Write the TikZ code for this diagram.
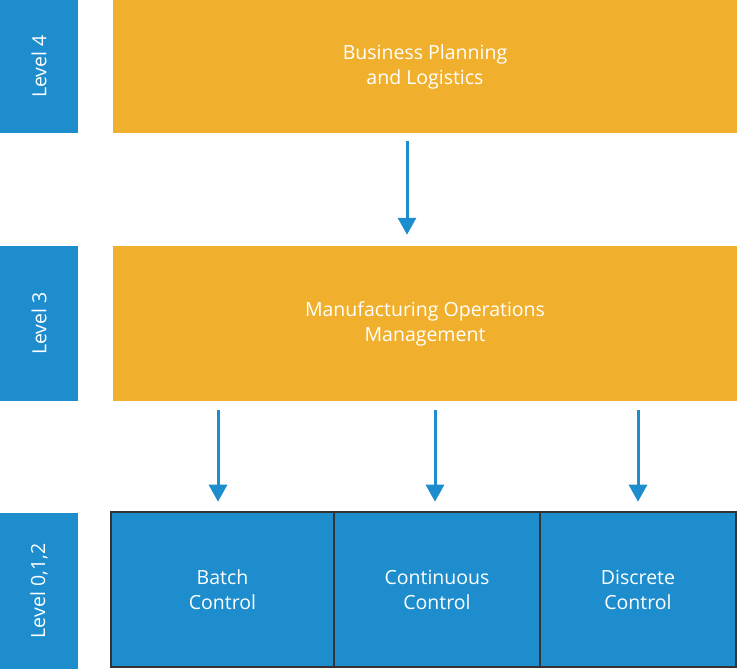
\documentclass[tikz,border=0pt]{standalone}
\usepackage{fontspec}
\setmainfont{Open Sans}
\usetikzlibrary{arrows.meta}

\definecolor{lvlblue}{HTML}{1E8DCE}
\definecolor{mesorange}{HTML}{F0B02D}
\definecolor{edgegray}{HTML}{333333}

\begin{document}
\begin{tikzpicture}[x=1pt, y=1pt,
 level/.style = {fill=lvlblue, minimum width=78pt, inner sep=0pt, text=white},
 layer/.style = {fill=mesorange, minimum width=624pt, inner sep=0pt, text=white, align=center},
 ctrl/.style = {fill=lvlblue, draw=edgegray, line width=2.5pt, inner sep=0pt, text=white, align=center, minimum height=155pt},
 flow/.style = {draw=lvlblue, line width=3pt, -{Triangle[width=18pt,length=17pt]}},
 every node/.style = {font=\fontsize{19.5}{25}\selectfont}]
\useasboundingbox (0,0) rectangle (737,669);

% levels on the left
\node[level, minimum height=133pt] (lvlfour) at (39,602.5) {\rotatebox{90}{Level 4}};
\node[level, minimum height=155pt] (lvlthree) at (39,345.5) {\rotatebox{90}{Level 3}};
\node[level, minimum height=156pt] (lvllow) at (39,78) {\rotatebox{90}{Level 0,1,2}};

% orange layers
\node[layer, minimum height=133pt] (plan) at (425,602.5) {Business Planning\\and Logistics};
\node[layer, minimum height=155pt] (mom) at (425,345.5) {Manufacturing Operations\\Management};

% control boxes
\node[ctrl, minimum width=223pt] (batch) at (222.5,79.5) {Batch\\Control};
\node[ctrl, minimum width=206pt] (cont) at (437,79.5) {Continuous\\Control};
\node[ctrl, minimum width=196pt] (disc) at (638,79.5) {Discrete\\Control};

% arrows
\draw[flow, shorten <=8pt, shorten >=11pt] ([xshift=-18pt]plan.south) -- ([xshift=-18pt]mom.north);
\draw[flow, shorten <=9pt, shorten >=9pt] ([xshift=-4.5pt]batch.north |- mom.south) -- ([xshift=-4.5pt]batch.north);
\draw[flow, shorten <=9pt, shorten >=9pt] ([xshift=-2pt]cont.north |- mom.south) -- ([xshift=-2pt]cont.north);
\draw[flow, shorten <=9pt, shorten >=9pt] (disc.north |- mom.south) -- (disc.north);

\end{tikzpicture}
\end{document}
